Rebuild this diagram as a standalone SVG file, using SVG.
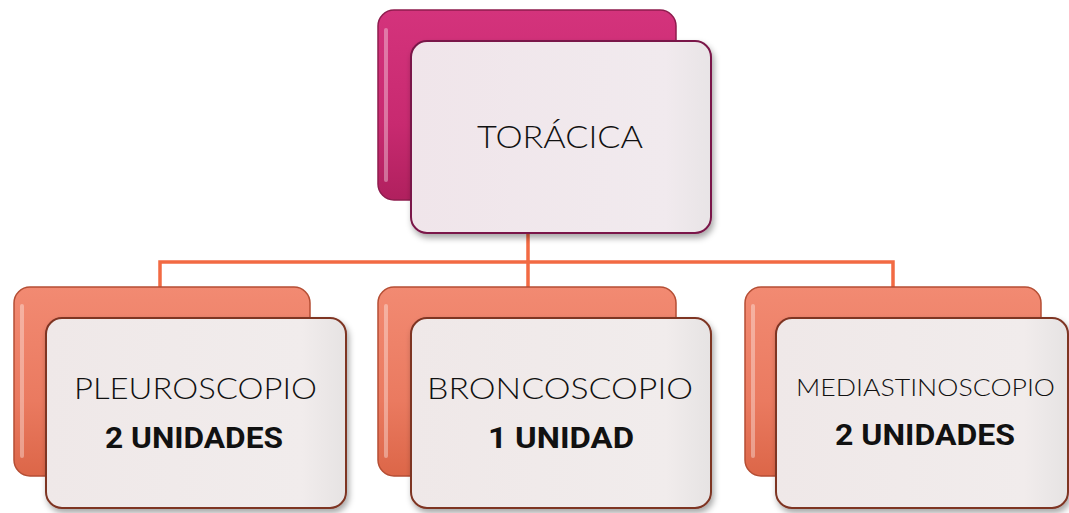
<svg xmlns="http://www.w3.org/2000/svg" width="1069" height="513" viewBox="0 0 1069 513">
<defs>
<linearGradient id="gMag" x1="0" y1="0" x2="0" y2="1">
<stop offset="0" stop-color="#d4337c"/>
<stop offset="0.6" stop-color="#c82a70"/>
<stop offset="1" stop-color="#b0205e"/>
</linearGradient>
<linearGradient id="gSal" x1="0" y1="0" x2="0" y2="1">
<stop offset="0" stop-color="#f28a72"/>
<stop offset="0.6" stop-color="#ea7a60"/>
<stop offset="1" stop-color="#dc6648"/>
</linearGradient>
<linearGradient id="gFront" x1="0" y1="0" x2="1" y2="0">
<stop offset="0" stop-color="#efe8e8"/>
<stop offset="0.85" stop-color="#f1ecec"/>
<stop offset="1" stop-color="#e6e3e3"/>
</linearGradient>
<linearGradient id="gFrontM" x1="0" y1="0" x2="1" y2="0">
<stop offset="0" stop-color="#f0e5ea"/>
<stop offset="0.85" stop-color="#f1eaee"/>
<stop offset="1" stop-color="#e8e4e6"/>
</linearGradient>
<filter id="sh" x="-10%" y="-10%" width="125%" height="130%">
<feDropShadow dx="2" dy="4" stdDeviation="3" flood-color="#000" flood-opacity="0.35"/>
</filter>
</defs>
<style>
.backM{fill:url(#gMag);stroke:#8e1c4e;stroke-width:1.5}
.backS{fill:url(#gSal);stroke:#b54e34;stroke-width:1.5}
.frontM{fill:url(#gFrontM);stroke:#7a1848;stroke-width:2;filter:url(#sh)}
.frontS{fill:url(#gFront);stroke:#7e3424;stroke-width:2;filter:url(#sh)}
.hl{fill:none;stroke:#ffffff;stroke-opacity:0.35;stroke-width:4;stroke-linecap:round}
.conn{fill:none;stroke:#f26a43;stroke-width:3.5}
.t{font-family:Lato,"Liberation Sans",sans-serif;font-weight:300;fill:#111}
.b{font-family:Roboto,"Liberation Sans",sans-serif;font-weight:bold;fill:#111}
</style>
<g id="connectors">
<path class="conn" d="M528 232 V290 M160 290 V262 H893 V290"/>
</g>
<g id="node-toracica">
<rect class="backM" x="378" y="10" width="298" height="190" rx="16"/>
<path class="hl" d="M386 30 V180"/>
<rect class="frontM" x="411" y="41" width="300" height="192" rx="16"/>
<text class="t" x="477" y="148" font-size="32" textLength="166" lengthAdjust="spacingAndGlyphs">TORÁCICA</text>
</g>
<g id="node-pleuroscopio">
<rect class="backS" x="14" y="287" width="296" height="189" rx="16"/>
<path class="hl" d="M22 306 V456"/>
<rect class="frontS" x="46" y="318" width="300" height="190" rx="16"/>
<text class="t" x="74" y="399" font-size="29" textLength="243" lengthAdjust="spacingAndGlyphs">PLEUROSCOPIO</text>
<text class="b" x="105" y="448" font-size="29.5" textLength="178" lengthAdjust="spacingAndGlyphs">2 UNIDADES</text>
</g>
<g id="node-broncoscopio">
<rect class="backS" x="378" y="287" width="298" height="189" rx="16"/>
<path class="hl" d="M386 306 V456"/>
<rect class="frontS" x="411" y="318" width="300" height="190" rx="16"/>
<text class="t" x="427" y="399" font-size="29" textLength="266" lengthAdjust="spacingAndGlyphs">BRONCOSCOPIO</text>
<text class="b" x="488" y="448" font-size="29.5" textLength="146" lengthAdjust="spacingAndGlyphs">1 UNIDAD</text>
</g>
<g id="node-mediastinoscopio">
<rect class="backS" x="745" y="287" width="296" height="189" rx="16"/>
<path class="hl" d="M753 306 V456"/>
<rect class="frontS" x="776" y="318" width="292" height="190" rx="16"/>
<text class="t" x="796" y="396" font-size="24" textLength="259" lengthAdjust="spacingAndGlyphs">MEDIASTINOSCOPIO</text>
<text class="b" x="835" y="445" font-size="29.5" textLength="180" lengthAdjust="spacingAndGlyphs">2 UNIDADES</text>
</g>
</svg>
